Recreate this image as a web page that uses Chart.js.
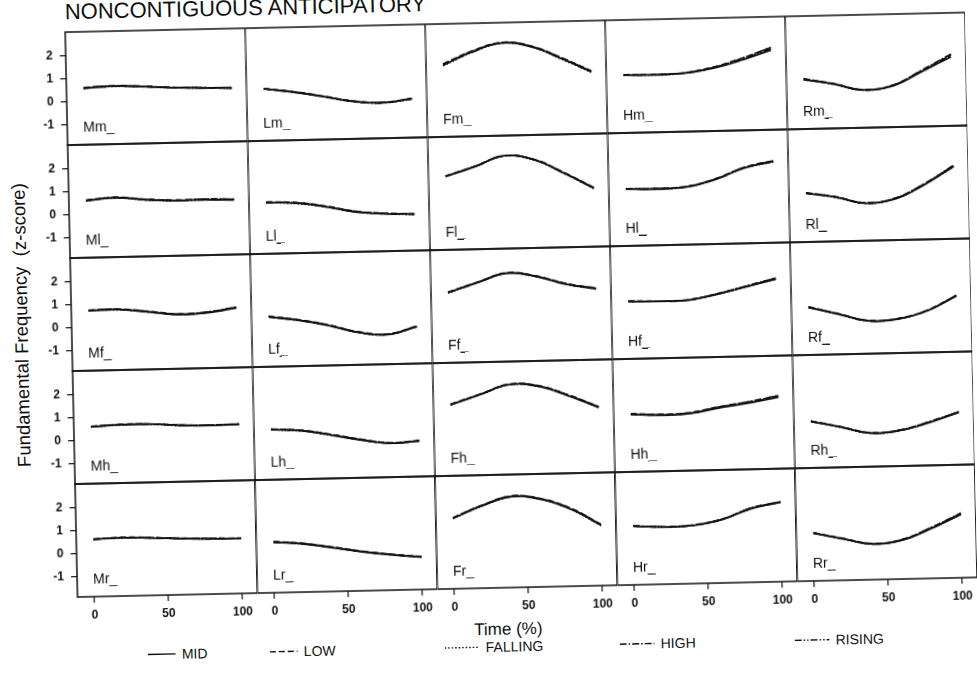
<!DOCTYPE html>
<html><head><meta charset="utf-8">
<script src="https://cdn.jsdelivr.net/npm/chart.js@4.4.1/dist/chart.umd.min.js"></script>
<style>
html,body{margin:0;padding:0;background:#fff;width:977px;height:681px;overflow:hidden;font-family:Arial,"Liberation Sans",sans-serif;color:#111}
#fig{position:absolute;left:0;top:0;width:977px;height:681px;transform:rotate(-1.25deg);transform-origin:488px 340px}
canvas{position:absolute}
.txt{position:absolute;white-space:pre;color:#111}
.plab{position:absolute;font-size:14px;line-height:14px;white-space:nowrap;color:#111}
.leg{position:absolute;display:flex;align-items:center;font-size:14px;line-height:16px;color:#111}
.leg svg{margin-right:6px}
</style>
</head><body>
<div id="fig">
  <div class="txt" style="left:72px;top:-8px;font-size:22px;line-height:22px;">NONCONTIGUOUS ANTICIPATORY</div>
  <div class="txt" style="left:-138px;top:304px;width:320px;height:22px;font-size:18.5px;line-height:22px;text-align:center;transform:rotate(-90deg);">Fundamental Frequency  (z-score)</div>
  <div class="txt" style="left:422px;top:620px;width:160px;font-size:17px;line-height:20px;text-align:center;">Time (%)</div>
  <div id="legend"></div>
</div>
<script>
// ---------- data ----------
const timePct = [0, 20, 40, 60, 80, 100];
const seriesNames = ['MID', 'LOW', 'FALLING', 'HIGH', 'RISING'];
const columnPrefixes = ['M', 'L', 'F', 'H', 'R'];
const rowSuffixes = ['m', 'l', 'f', 'h', 'r'];
const xTickValues = [0, 50, 100];
const yTickValues = [-1, 0, 1, 2];

// each panel: [MID, LOW, FALLING, HIGH, RISING]
const Mm = [[0.59,0.65,0.60,0.53,0.49,0.45],[0.62,0.66,0.61,0.54,0.50,0.46],[0.57,0.63,0.59,0.52,0.48,0.45],[0.60,0.67,0.62,0.53,0.49,0.47],[0.58,0.64,0.60,0.54,0.50,0.46]];
const Lm = [[0.39,0.22,0.00,-0.24,-0.33,-0.19],[0.40,0.24,0.02,-0.22,-0.31,-0.17],[0.38,0.21,-0.01,-0.25,-0.34,-0.20],[0.39,0.23,0.01,-0.23,-0.32,-0.18],[0.40,0.22,0.00,-0.24,-0.33,-0.18]];
const Fm = [[1.25,1.80,2.16,1.96,1.42,0.82],[1.30,1.84,2.18,1.99,1.46,0.86],[1.22,1.78,2.14,1.95,1.40,0.80],[1.28,1.82,2.17,1.98,1.45,0.84],[1.24,1.79,2.15,1.97,1.43,0.81]];
const Hm = [[0.64,0.63,0.66,0.85,1.18,1.59],[0.65,0.64,0.68,0.90,1.26,1.70],[0.63,0.62,0.66,0.86,1.22,1.66],[0.64,0.63,0.67,0.88,1.25,1.72],[0.65,0.63,0.67,0.87,1.21,1.64]];
const Rm = [[0.29,0.06,-0.23,-0.09,0.51,1.13],[0.32,0.08,-0.21,-0.06,0.56,1.22],[0.27,0.05,-0.24,-0.08,0.53,1.18],[0.30,0.07,-0.22,-0.05,0.58,1.25],[0.28,0.06,-0.23,-0.07,0.54,1.17]];

const Ml = [[0.61,0.71,0.59,0.53,0.53,0.50],[0.63,0.73,0.62,0.55,0.56,0.53],[0.60,0.70,0.58,0.52,0.55,0.52],[0.62,0.72,0.60,0.54,0.57,0.54],[0.61,0.71,0.61,0.53,0.54,0.51]];
const Ll = [[0.36,0.30,0.12,-0.14,-0.24,-0.29],[0.38,0.33,0.15,-0.10,-0.22,-0.27],[0.35,0.29,0.11,-0.12,-0.25,-0.30],[0.37,0.32,0.14,-0.11,-0.23,-0.28],[0.36,0.31,0.13,-0.13,-0.24,-0.29]];
const Fl = [[1.32,1.72,2.16,1.96,1.35,0.67],[1.33,1.74,2.17,1.98,1.38,0.70],[1.31,1.71,2.15,1.95,1.34,0.65],[1.32,1.73,2.16,1.97,1.37,0.69],[1.33,1.72,2.17,1.96,1.36,0.68]];
const Hl = [[0.60,0.58,0.63,0.92,1.40,1.66],[0.61,0.59,0.65,0.95,1.43,1.70],[0.59,0.58,0.62,0.91,1.39,1.64],[0.60,0.59,0.64,0.94,1.42,1.69],[0.61,0.58,0.63,0.93,1.41,1.67]];
const Rl = [[0.25,0.05,-0.24,-0.09,0.50,1.27],[0.27,0.07,-0.22,-0.06,0.54,1.31],[0.24,0.04,-0.25,-0.08,0.52,1.25],[0.26,0.06,-0.23,-0.05,0.55,1.32],[0.25,0.05,-0.24,-0.07,0.53,1.29]];

const Mf = [[0.74,0.76,0.63,0.48,0.53,0.72],[0.76,0.78,0.66,0.52,0.56,0.75],[0.73,0.75,0.62,0.50,0.55,0.74],[0.75,0.77,0.64,0.51,0.57,0.76],[0.74,0.76,0.65,0.49,0.54,0.73]];
const Lf = [[0.29,0.12,-0.13,-0.46,-0.59,-0.27],[0.33,0.15,-0.10,-0.43,-0.56,-0.24],[0.30,0.13,-0.12,-0.45,-0.58,-0.26],[0.31,0.14,-0.11,-0.44,-0.57,-0.25],[0.29,0.12,-0.13,-0.46,-0.58,-0.27]];
const Ff = [[1.18,1.59,1.97,1.79,1.43,1.21],[1.20,1.61,1.99,1.82,1.46,1.24],[1.17,1.58,1.96,1.78,1.42,1.20],[1.19,1.60,1.98,1.81,1.45,1.23],[1.18,1.59,1.97,1.80,1.44,1.22]];
const Hf = [[0.63,0.60,0.62,0.85,1.15,1.46],[0.64,0.62,0.64,0.88,1.18,1.50],[0.62,0.60,0.63,0.86,1.16,1.47],[0.63,0.61,0.64,0.87,1.19,1.51],[0.64,0.61,0.63,0.86,1.17,1.48]];
const Rf = [[0.20,-0.12,-0.44,-0.40,-0.07,0.55],[0.22,-0.10,-0.42,-0.37,-0.04,0.58],[0.19,-0.13,-0.45,-0.39,-0.06,0.56],[0.21,-0.11,-0.43,-0.38,-0.05,0.59],[0.20,-0.12,-0.44,-0.39,-0.06,0.57]];

const Mh = [[0.60,0.66,0.66,0.58,0.54,0.56],[0.62,0.68,0.67,0.60,0.56,0.58],[0.59,0.65,0.65,0.57,0.55,0.57],[0.61,0.67,0.66,0.59,0.57,0.59],[0.60,0.66,0.67,0.58,0.55,0.57]];
const Lh = [[0.31,0.23,0.02,-0.23,-0.40,-0.33],[0.33,0.26,0.05,-0.19,-0.37,-0.30],[0.30,0.22,0.01,-0.22,-0.39,-0.32],[0.32,0.25,0.04,-0.20,-0.38,-0.31],[0.31,0.24,0.03,-0.21,-0.40,-0.33]];
const Fh = [[1.22,1.63,2.04,1.93,1.49,0.96],[1.24,1.65,2.06,1.96,1.53,1.00],[1.21,1.62,2.03,1.92,1.48,0.95],[1.23,1.64,2.05,1.95,1.52,0.99],[1.22,1.63,2.04,1.94,1.50,0.97]];
const Hh = [[0.63,0.57,0.61,0.83,1.01,1.24],[0.66,0.60,0.65,0.88,1.06,1.30],[0.64,0.59,0.62,0.86,1.04,1.27],[0.65,0.58,0.64,0.87,1.07,1.31],[0.62,0.57,0.62,0.85,1.03,1.26]];
const Rh = [[0.15,-0.12,-0.41,-0.33,-0.01,0.40],[0.17,-0.10,-0.39,-0.31,0.02,0.43],[0.14,-0.13,-0.42,-0.32,0.00,0.41],[0.16,-0.11,-0.40,-0.30,0.03,0.44],[0.15,-0.12,-0.41,-0.32,0.01,0.42]];

const Mr = [[0.62,0.66,0.62,0.57,0.53,0.52],[0.63,0.68,0.64,0.58,0.55,0.54],[0.61,0.66,0.63,0.57,0.54,0.53],[0.62,0.67,0.63,0.58,0.54,0.53],[0.63,0.66,0.62,0.57,0.53,0.52]];
const Lr = [[0.33,0.22,0.03,-0.18,-0.34,-0.47],[0.35,0.25,0.06,-0.15,-0.31,-0.44],[0.32,0.21,0.02,-0.17,-0.33,-0.46],[0.34,0.24,0.05,-0.16,-0.32,-0.45],[0.33,0.23,0.04,-0.17,-0.34,-0.46]];
const Fr = [[1.19,1.71,2.08,1.93,1.47,0.75],[1.22,1.74,2.11,1.96,1.51,0.79],[1.18,1.70,2.07,1.92,1.46,0.74],[1.21,1.73,2.10,1.95,1.50,0.78],[1.20,1.72,2.09,1.94,1.48,0.76]];
const Hr = [[0.68,0.62,0.65,0.88,1.33,1.57],[0.69,0.63,0.67,0.90,1.35,1.60],[0.67,0.62,0.66,0.89,1.34,1.58],[0.68,0.63,0.66,0.90,1.36,1.61],[0.69,0.62,0.65,0.88,1.33,1.59]];
const Rr = [[0.21,-0.07,-0.32,-0.18,0.30,0.88],[0.23,-0.05,-0.30,-0.15,0.34,0.93],[0.20,-0.08,-0.33,-0.17,0.32,0.90],[0.22,-0.06,-0.31,-0.16,0.35,0.94],[0.21,-0.07,-0.32,-0.17,0.31,0.89]];

const panelData = {Mm, Lm, Fm, Hm, Rm, Ml, Ll, Fl, Hl, Rl, Mf, Lf, Ff, Hf, Rf, Mh, Lh, Fh, Hh, Rh, Mr, Lr, Fr, Hr, Rr};

// ---------- styling / layout ----------
const seriesDash = [[], [6, 3], [1.5, 2], [7, 2, 1.5, 2], [7, 2, 1.5, 2, 1.5, 2]];
const INK = '#111';
const GRID_LEFT = 72, GRID_TOP = 23, PANEL_W = 180, PANEL_H = 113;
const Y_AXIS_W = 45, X_AXIS_H = 34, V_MARGIN = 25;

const framePlugin = {
  id: 'frame',
  afterDatasetsDraw(chart) {
    const {ctx, chartArea: a} = chart;
    ctx.save();
    ctx.strokeStyle = INK;
    ctx.lineWidth = 1.5;
    ctx.strokeRect(a.left, a.top, a.right - a.left, a.bottom - a.top);
    ctx.restore();
  }
};

const fig = document.getElementById('fig');
const tickFont = {family: 'Arial, "Liberation Sans", sans-serif', size: 12, weight: 'bold'};

rowSuffixes.forEach((rs, r) => {
  columnPrefixes.forEach((cp, c) => {
    const key = cp + rs;
    const isLeft = c === 0, isBottom = r === rowSuffixes.length - 1;
    const panelLeft = GRID_LEFT + PANEL_W * c;
    const panelTop = GRID_TOP + PANEL_H * r;
    const w = PANEL_W + (isLeft ? Y_AXIS_W : 0);
    const h = V_MARGIN + PANEL_H + (isBottom ? X_AXIS_H : V_MARGIN);
    const cv = document.createElement('canvas');
    cv.width = w; cv.height = h;
    cv.style.left = (panelLeft - (isLeft ? Y_AXIS_W : 0)) + 'px';
    cv.style.top = (panelTop - V_MARGIN) + 'px';
    cv.style.width = w + 'px'; cv.style.height = h + 'px';
    fig.appendChild(cv);

    const lab = document.createElement('div');
    lab.className = 'plab';
    lab.textContent = key + '_';
    lab.style.left = (panelLeft + 16) + 'px';
    lab.style.top = (panelTop + 88) + 'px';
    fig.appendChild(lab);

    const datasets = panelData[key].map((vals, s) => ({
      label: seriesNames[s],
      data: timePct.map((t, i) => ({x: t, y: vals[i]})),
      borderColor: INK,
      borderWidth: 1.6,
      borderDash: seriesDash[s],
      pointRadius: 0,
      fill: false,
      tension: 0.4
    }));

    new Chart(cv, {
      type: 'line',
      data: {datasets},
      options: {
        responsive: false,
        maintainAspectRatio: false,
        animation: false,
        events: [],
        devicePixelRatio: 1,
        layout: {padding: {top: V_MARGIN, bottom: isBottom ? 0 : V_MARGIN, left: 0, right: 0}, autoPadding: false},
        plugins: {legend: {display: false}, tooltip: {enabled: false}, title: {display: false}},
        scales: {
          x: {
            type: 'linear', min: -11.5, max: 110, display: isBottom,
            afterBuildTicks: s => { s.ticks = xTickValues.map(v => ({value: v})); },
            afterFit: s => { if (isBottom) s.height = X_AXIS_H; },
            grid: {display: true, drawOnChartArea: false, drawTicks: true, tickLength: 6, color: INK, lineWidth: 1.2},
            border: {display: false},
            ticks: {font: tickFont, color: INK, padding: 5, maxRotation: 0, autoSkip: false}
          },
          y: {
            type: 'linear', min: -1.87, max: 3.04, display: isLeft,
            afterBuildTicks: s => { s.ticks = yTickValues.map(v => ({value: v})); },
            afterFit: s => { if (isLeft) s.width = Y_AXIS_W; },
            grid: {display: true, drawOnChartArea: false, drawTicks: true, tickLength: 6, color: INK, lineWidth: 1.2},
            border: {display: false},
            ticks: {font: tickFont, color: INK, padding: 7, autoSkip: false}
          }
        }
      },
      plugins: [framePlugin]
    });
  });
});

// ---------- legend ----------
const legendX = [141, 263, 438, 613, 788];
const legendLineW = [28, 28, 35, 35, 35];
const legend = document.getElementById('legend');
seriesNames.forEach((name, s) => {
  const item = document.createElement('div');
  item.className = 'leg';
  item.style.left = legendX[s] + 'px';
  item.style.top = '639px';
  const lw = legendLineW[s];
  const dash = seriesDash[s].length ? seriesDash[s].join(' ') : 'none';
  item.innerHTML = `<svg width="${lw}" height="10"><line x1="0" y1="5" x2="${lw}" y2="5" stroke="${INK}" stroke-width="1.4" stroke-dasharray="${dash}"/></svg><span>${name}</span>`;
  legend.appendChild(item);
});
</script>
</body></html>
